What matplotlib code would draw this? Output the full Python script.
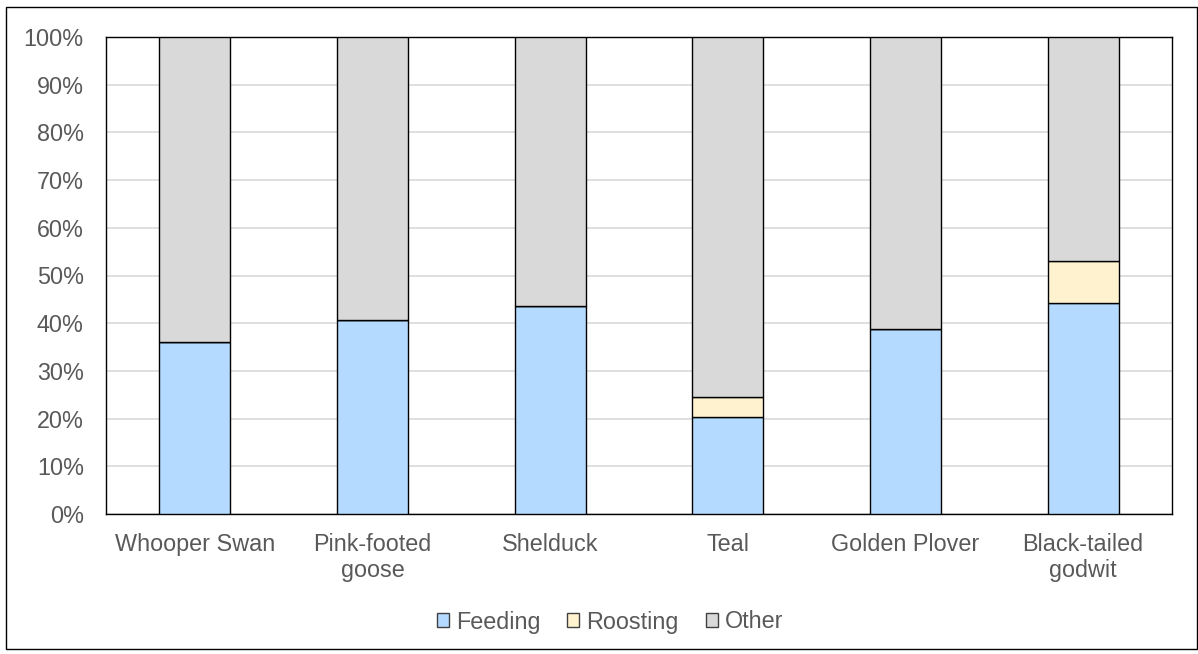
import matplotlib
matplotlib.use("Agg")
import matplotlib.pyplot as plt
from matplotlib.patches import Rectangle
from matplotlib.ticker import MultipleLocator, PercentFormatter

species = ["Whooper Swan", "Pink-footed\ngoose", "Shelduck", "Teal",
           "Golden Plover", "Black-tailed\ngodwit"]
feeding = [36.0, 40.7, 43.6, 20.3, 38.8, 44.3]
roosting = [0.0, 0.0, 0.0, 4.2, 0.0, 8.7]
other = [100 - f - r for f, r in zip(feeding, roosting)]

colors = {"Feeding": "#B4DBFF", "Roosting": "#FFF3CF", "Other": "#D9D9D9"}
text_color = "#595959"
fs = 16.8

plt.rcParams["font.family"] = ["Liberation Sans", "DejaVu Sans"]

fig = plt.figure(figsize=(11.98, 6.54), dpi=100)
ax = fig.add_axes([106 / 1198, 1 - 514 / 654, (1172 - 106) / 1198, (514 - 37) / 654])

x = range(len(species))
w = 0.4
edge = dict(edgecolor="black", linewidth=1.0, zorder=3)
ax.bar(x, feeding, w, color=colors["Feeding"], label="Feeding", **edge)
ax.bar(x, roosting, w, bottom=feeding, color=colors["Roosting"], label="Roosting", **edge)
bottoms = [f + r for f, r in zip(feeding, roosting)]
ax.bar(x, other, w, bottom=bottoms, color=colors["Other"], label="Other", **edge)

ax.set_xlim(-0.5, len(species) - 0.5)
ax.set_ylim(0, 100)
ax.yaxis.set_major_locator(MultipleLocator(10))
ax.yaxis.set_major_formatter(PercentFormatter(decimals=0))
ax.grid(axis="y", color="#D9D9D9", linewidth=1.2, zorder=0)
ax.set_axisbelow(True)
for s in ax.spines.values():
    s.set_color("black")
    s.set_linewidth(1.0)
ax.tick_params(axis="both", length=0, labelsize=fs, colors=text_color)
ax.tick_params(axis="x", pad=13.5)
ax.tick_params(axis="y", pad=16)
ax.set_xticks(list(x))
ax.set_xticklabels(species, linespacing=1.17, va="top")

leg = fig.legend(loc="center", bbox_to_anchor=(610 / 1198, 1 - 622 / 654), ncol=3,
                 frameon=False, fontsize=fs, handlelength=0.52, handleheight=0.52,
                 handletextpad=0.3, columnspacing=1.15, borderaxespad=0)
for t in leg.get_texts():
    t.set_color(text_color)
for h in leg.legend_handles:
    h.set_linewidth(1.0)
    h.set_edgecolor("#404040")

fig.patches.append(Rectangle((6 / 1198, 1 - 649 / 654), (1197 - 6) / 1198, (649 - 7) / 654,
                             transform=fig.transFigure, fill=False,
                             edgecolor="black", linewidth=1.0))

fig.savefig("out.png", dpi=100)
